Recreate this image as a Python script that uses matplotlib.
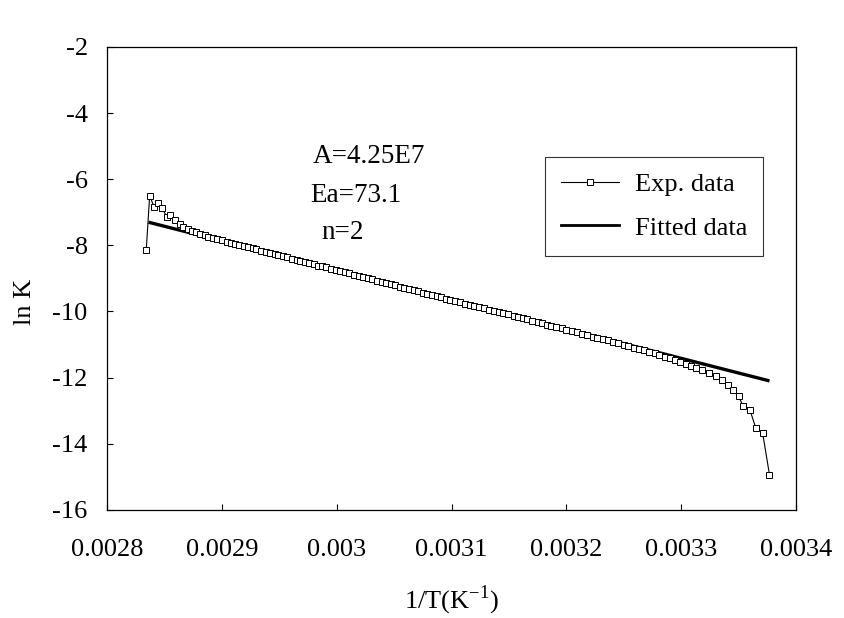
import matplotlib
matplotlib.use("Agg")
import matplotlib.pyplot as plt
from matplotlib.lines import Line2D

plt.rcParams['font.family'] = ['Liberation Serif', 'DejaVu Serif']
plt.rcParams['mathtext.fontset'] = 'custom'
plt.rcParams['mathtext.rm'] = 'Liberation Serif'
plt.rcParams['axes.unicode_minus'] = False

# x values in units of 1e-4 K^-1
exp_x = [28.34, 28.37, 28.41, 28.44, 28.48, 28.52, 28.55, 28.59, 28.63, 28.66,
         28.70, 28.74, 28.77, 28.81, 28.85, 28.88, 28.92, 28.96,
         29.00, 29.04, 29.08, 29.11, 29.15, 29.19, 29.23, 29.27, 29.30, 29.34,
         29.38, 29.42, 29.46, 29.49, 29.53, 29.57, 29.61, 29.65, 29.68, 29.72,
         29.76, 29.80, 29.84, 29.87, 29.91, 29.95, 29.99,
         30.03, 30.07, 30.11, 30.15, 30.19, 30.23, 30.27, 30.31, 30.35, 30.39,
         30.43, 30.47, 30.51, 30.55, 30.59, 30.63, 30.67, 30.71, 30.75, 30.79,
         30.83, 30.87, 30.91, 30.95, 30.99,
         31.03, 31.07, 31.12, 31.16, 31.20, 31.24, 31.28, 31.33, 31.37, 31.41,
         31.45, 31.49, 31.54, 31.58, 31.62, 31.66, 31.70, 31.75, 31.79, 31.83,
         31.87, 31.91, 31.96,
         32.00, 32.05, 32.09, 32.14, 32.18, 32.23, 32.27, 32.32, 32.36, 32.41,
         32.45, 32.50, 32.54, 32.59, 32.63, 32.68, 32.72, 32.77, 32.81, 32.86,
         32.90, 32.95, 32.99,
         33.04, 33.09, 33.13, 33.18, 33.24, 33.30, 33.36, 33.41, 33.45, 33.50,
         33.54, 33.60, 33.65, 33.71, 33.77]
exp_y = [-8.15, -6.50, -6.85, -6.72, -6.88, -7.15, -7.08, -7.22, -7.34, -7.44,
         -7.52, -7.56, -7.60, -7.66, -7.70, -7.74, -7.78, -7.82,
         -7.85, -7.89, -7.92, -7.95, -7.99, -8.02, -8.06, -8.09, -8.12, -8.16,
         -8.19, -8.23, -8.26, -8.29, -8.33, -8.36, -8.40, -8.44, -8.46, -8.50,
         -8.53, -8.57, -8.61, -8.63, -8.67, -8.71, -8.74,
         -8.78, -8.81, -8.85, -8.89, -8.92, -8.96, -8.99, -9.03, -9.07, -9.10,
         -9.14, -9.17, -9.21, -9.25, -9.28, -9.32, -9.35, -9.39, -9.43, -9.46,
         -9.50, -9.53, -9.57, -9.61, -9.64,
         -9.68, -9.71, -9.76, -9.79, -9.83, -9.87, -9.90, -9.95, -9.98, -10.02,
         -10.06, -10.09, -10.14, -10.17, -10.21, -10.24, -10.28, -10.33, -10.36, -10.40,
         -10.43, -10.47, -10.51,
         -10.55, -10.60, -10.63, -10.68, -10.71, -10.76, -10.79, -10.84, -10.87, -10.92,
         -10.96, -11.00, -11.04, -11.09, -11.13, -11.18, -11.22, -11.27, -11.32, -11.37,
         -11.42, -11.48, -11.53,
         -11.59, -11.65, -11.70, -11.77, -11.86, -11.95, -12.07, -12.22, -12.37, -12.56,
         -12.86, -12.98, -13.52, -13.67, -14.94]

fit_x = [28.36, 33.77]
fit_y = [-7.30, -12.10]

xticks = [0.0028, 0.0029, 0.003, 0.0031, 0.0032, 0.0033, 0.0034]
xtick_labels = ['0.0028', '0.0029', '0.003', '0.0031', '0.0032', '0.0033', '0.0034']
yticks = [-16, -14, -12, -10, -8, -6, -4, -2]

annotations = ['A=4.25E7', 'Ea=73.1', 'n=2']

FS = 19

fig = plt.figure(figsize=(8.44, 6.18), dpi=100)
ax = fig.add_axes([0.127, 0.175, 0.816, 0.749])

ex = [v * 1e-4 for v in exp_x]
fx = [v * 1e-4 for v in fit_x]

ax.plot(fx, fit_y, color='black', lw=2.4, solid_capstyle='butt', zorder=2)
ax.plot(ex, exp_y, color='black', lw=0.8, marker='s', ms=5, mfc='white',
        mec='black', mew=0.7, zorder=3)

ax.set_xlim(0.0028, 0.0034)
ax.set_ylim(-16, -2)
ax.set_xticks(xticks)
ax.set_xticklabels(xtick_labels)
ax.set_yticks(yticks)
ax.tick_params(direction='in', length=4, width=0.8, labelsize=FS)
ax.tick_params(axis='x', pad=21)
ax.tick_params(axis='y', pad=14)
for s in ax.spines.values():
    s.set_linewidth(0.9)

ax.set_xlabel('1/T(K$^{\\mathrm{-1}}$)', fontsize=FS, labelpad=16)
ax.set_ylabel('ln K', fontsize=FS)
ax.yaxis.set_label_coords(-0.103, 0.45)

ax.text(0.002979, -5.3, annotations[0], fontsize=FS + 0.5, va='center', ha='left')
ax.text(0.002977, -6.5, annotations[1], fontsize=FS + 0.5, va='center', ha='left')
ax.text(0.002987, -7.6, annotations[2], fontsize=FS + 0.5, va='center', ha='left')

handles = [Line2D([], [], color='black', lw=0.8, marker='s', ms=4, mfc='white',
                  mec='black', mew=0.7),
           Line2D([], [], color='black', lw=2.0)]
leg = ax.legend(handles, ['Exp. data', 'Fitted data'], loc='upper right',
                bbox_to_anchor=(0.952, 0.762), borderaxespad=0, fontsize=FS,
                frameon=True, fancybox=False, edgecolor='black', handlelength=2.2,
                labelspacing=0.75, borderpad=0.6, handletextpad=0.6)
leg.get_frame().set_linewidth(0.8)

fig.savefig('out.png', dpi=100)
